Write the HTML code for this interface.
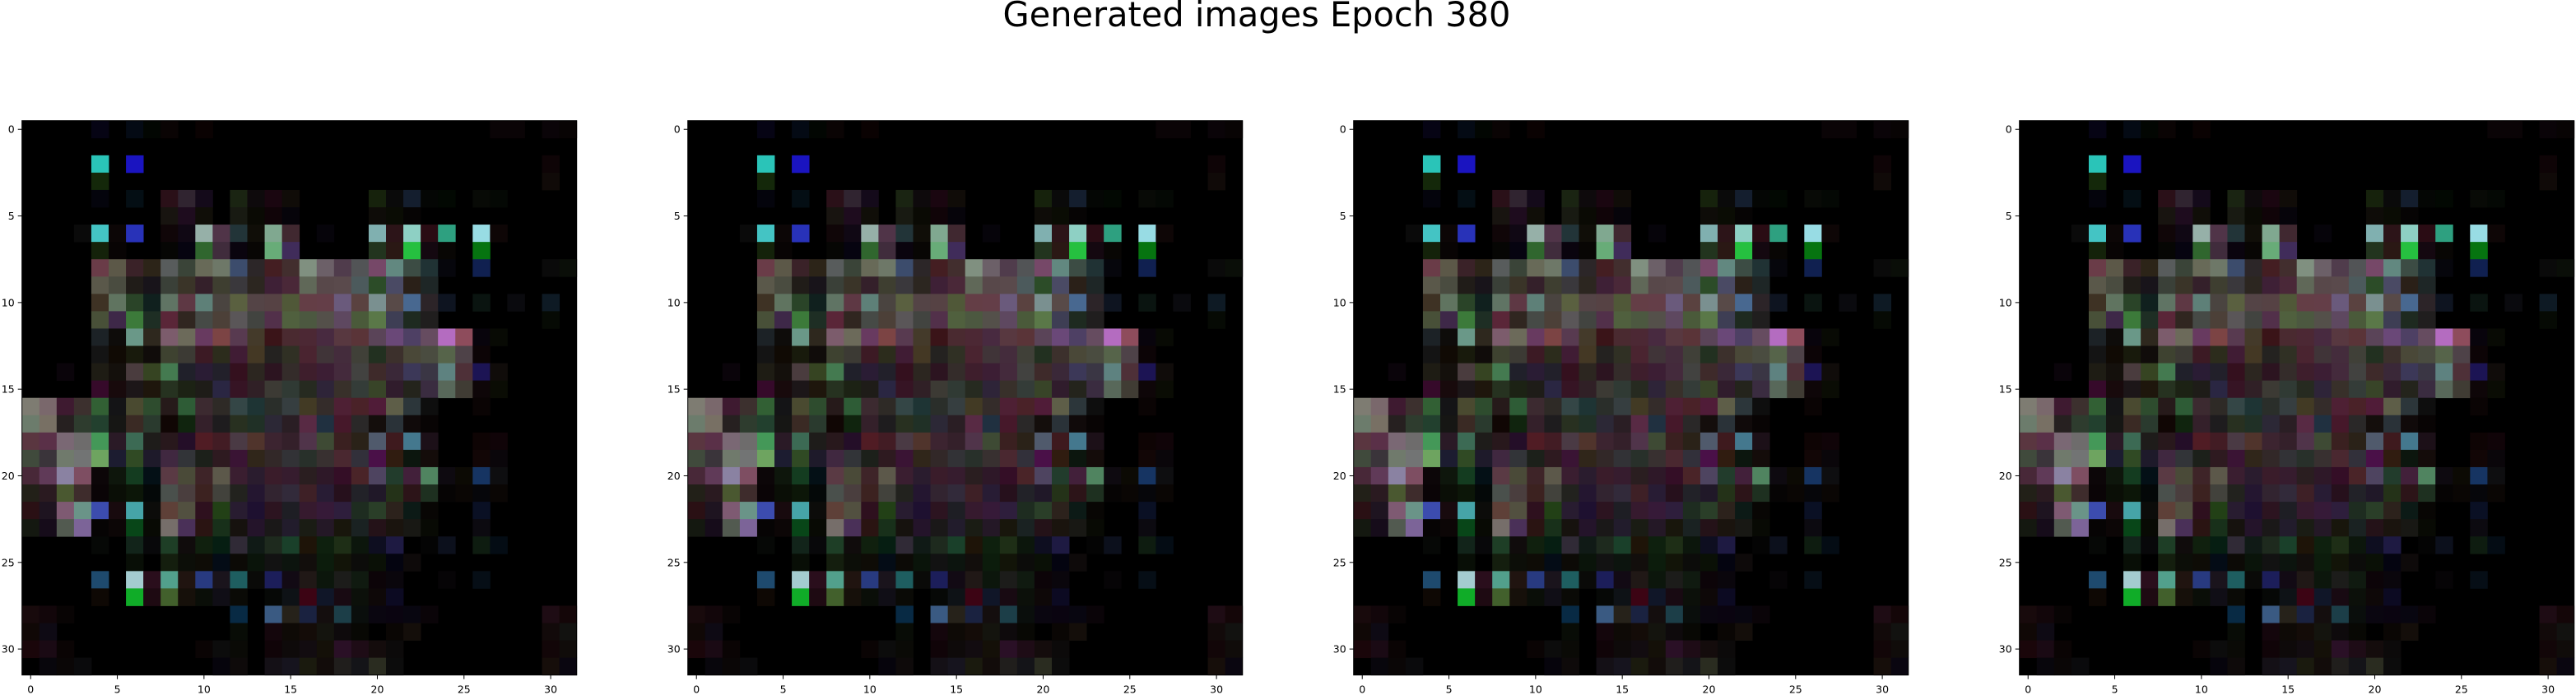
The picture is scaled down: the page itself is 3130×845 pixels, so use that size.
<!DOCTYPE html>
<html><head><meta charset="utf-8"><style>
html,body{margin:0;padding:0;background:#fff;}
body{width:3130px;height:845px;overflow:hidden;position:relative;font-family:"DejaVu Sans","Liberation Sans",sans-serif;}
#title{position:absolute;left:-76px;width:3206px;top:-7px;text-align:center;font-size:41.5px;color:#000;white-space:nowrap;}
svg{position:absolute;left:0;top:0;}
</style></head><body>
<div id="title">Generated images Epoch 380</div>
<svg id="fig" width="3130" height="845"></svg>
<script>
const panelCount = 4;
const gridSize = 32;
const tickValues = [0,5,10,15,20,25,30];
const tickLabels = ["0","5","10","15","20","25","30"];
const pixelRows = [
{4:'060414',6:'040a14',7:'020602',8:'0a0404',10:'0a0202',27:'0a0406',28:'0a0406',30:'0a0408',31:'080404'},
{},
{4:'2ac4b8',6:'1a14c0',30:'0e0406'},
{4:'14280a',30:'100a08'},
{4:'04040c',6:'040e14',8:'2a1018',9:'302430',10:'140a1a',12:'1a2412',13:'0e0a0c',14:'1a0610',15:'100c08',20:'16220c',21:'0a0a0a',22:'141e2e',23:'040604',24:'020802',26:'080a06',27:'040804'},
{8:'181410',9:'1e0c1e',10:'100e08',12:'181a12',13:'0a0a04',14:'100408',15:'06040a',20:'0e0c08',21:'0a0c04',22:'060404'},
{3:'0a0a0a',4:'44c4c4',5:'0c0606',6:'2832b8',8:'100608',9:'100814',10:'96b0a8',11:'503448',12:'223438',13:'100e08',14:'80a890',15:'402830',17:'06040a',20:'80b0b0',21:'2c1418',22:'8ed0c4',23:'2a0c14',24:'2ea080',26:'98dce4',27:'0e0606'},
{4:'14220a',5:'080404',8:'060604',9:'060410',10:'30662e',11:'402c3c',12:'0a040e',13:'080604',14:'68ac78',15:'402c5a',20:'22341e',21:'2a1814',22:'26c040',23:'140810',24:'080604',26:'067410'},
{4:'6a3c48',5:'5c5848',6:'3a2228',7:'2c2418',8:'585c5c',9:'3a4438',10:'686a58',11:'6e7868',12:'3c4c6c',13:'2c2628',14:'441e22',15:'422e2e',16:'809080',17:'6c6068',18:'503c4c',19:'525456',20:'764868',21:'628880',22:'3c4c44',23:'203234',24:'06060c',26:'102050',30:'0a0a0a',31:'0a0e08'},
{4:'5a584a',5:'4a4c40',6:'201c18',7:'18141a',8:'3a4038',9:'3a3428',10:'34202a',11:'3e3e30',12:'3a383c',13:'2c2620',14:'3e2036',15:'4a2838',16:'606858',17:'58484a',18:'5a4a4c',19:'4c5a5c',20:'2c4c28',21:'4a4a64',22:'2a2018',23:'1e2626'},
{4:'3e3224',5:'607460',6:'2a4428',7:'10201e',8:'607464',9:'5e3844',10:'5e8078',11:'4a4440',12:'5a6040',13:'544446',14:'564244',15:'505838',16:'643e46',17:'643e48',18:'6a5a7c',19:'5a4240',20:'7a9090',21:'584a48',22:'486890',23:'2c2428',24:'0e1420',26:'0a1410',28:'0a0a0e',30:'0e1a24'},
{4:'485038',5:'3e2848',6:'3c7a3a',7:'1e2e24',8:'5a2638',9:'302620',10:'464a46',11:'4c4038',12:'5a5658',13:'424440',14:'52304a',15:'50603e',16:'4c5840',17:'54504a',18:'5e4860',19:'4a5a3a',20:'5a7848',21:'3e3e54',22:'1e2a20',23:'201e1e',30:'060a04'},
{4:'1c2226',5:'0e0c0a',6:'6a9888',7:'2e281e',8:'7c5c6c',9:'6c6a5a',10:'683a60',11:'7c4444',12:'583a50',13:'443a2a',14:'3a1418',15:'4a2a30',16:'4c2834',17:'482a40',18:'583840',19:'5a3438',20:'5a4458',21:'6a4878',22:'4e4064',23:'664c60',24:'b46cc0',25:'8e4c5c',26:'08040c',27:'080a04'},
{4:'141414',5:'100a04',6:'181a0c',7:'100c0a',8:'3e4230',9:'3c3a34',10:'3c1a24',11:'2c2c1c',12:'401c34',13:'443824',14:'242220',15:'303024',16:'4a2430',17:'403438',18:'442c3c',19:'404038',20:'223020',21:'3c302c',22:'4a4838',23:'4a4c40',24:'56644a',25:'4e4248',26:'0c0406'},
{2:'0a040a',4:'1e1c14',5:'14100c',6:'4a3c3e',7:'364422',8:'447a50',9:'20202a',10:'2a1c34',11:'22202a',12:'34101e',13:'2c2620',14:'2c1420',15:'342c2a',16:'3e1e2c',17:'3c1e34',18:'442a3c',19:'424240',20:'3e2a2a',21:'3a2838',22:'3c3858',23:'3a3644',24:'5e8280',25:'4e3038',26:'1c1454',27:'100c0a'},
{4:'360a2a',5:'180a0c',6:'1c1618',7:'1e160c',8:'263220',9:'1c2214',10:'1e1c18',11:'2a2642',12:'361424',13:'302026',14:'3c3a34',15:'303a34',16:'262a20',17:'2e2438',18:'38302a',19:'343c38',20:'384428',21:'301c2c',22:'24241c',23:'3a2c40',24:'58685a',25:'403c34',26:'0e0608',27:'0a0c04'},
{0:'7e7c72',1:'7a686c',2:'3e1a30',3:'3c302e',4:'326034',5:'141416',6:'4a4a30',7:'2e4c2e',8:'261a1a',9:'2e5c36',10:'3c2a30',11:'2e2a26',12:'344646',13:'1e3434',14:'2a2e2a',15:'363e40',16:'423a24',17:'342c2a',18:'4e2034',19:'4a2228',20:'501c38',21:'5e5e48',22:'2c363a',23:'0e0e0e',26:'0a0404'},
{0:'6c7c6c',1:'787064',2:'262020',3:'2e3c2e',4:'22402e',5:'161614',6:'3a2a24',7:'2a3a2e',8:'100604',9:'10240e',10:'34202a',11:'1e1c1e',12:'283020',13:'203026',14:'2c2836',15:'2a1e24',16:'582a44',17:'203040',18:'46182a',19:'2a2828',20:'140e0c',21:'2a3238',22:'100a0a',23:'080404'},
{0:'5a3640',1:'5a3048',2:'7a6874',3:'6e6c6c',4:'449858',5:'2a1a26',6:'3c6a54',7:'1e1c1a',8:'28181c',9:'240e28',10:'501c24',11:'421c24',12:'4a3a44',13:'50342c',14:'3c2430',15:'34202a',16:'50344a',17:'3e4a34',18:'3a2020',19:'2a2218',20:'505a6c',21:'3e1a1e',22:'44788e',23:'1c1018',26:'0e0404',27:'100408'},
{0:'404a3c',1:'3a343a',2:'707a6c',3:'727474',4:'6ea460',5:'1c1c30',6:'304a24',7:'1e1a2a',8:'402840',9:'323438',10:'1c201a',11:'2e1a20',12:'3a1434',13:'30261a',14:'322828',15:'323236',16:'28302a',17:'383030',18:'4a2830',19:'32303a',20:'4a1048',21:'301c10',22:'0c160e',23:'140c0a',26:'120606',27:'0a060a'},
{0:'482838',1:'603a58',2:'8a82a2',3:'7e4e62',4:'0c0608',5:'0e160c',6:'143c20',7:'041016',8:'5a3a44',9:'4a4a38',10:'3e2428',11:'5c584a',12:'3a1e30',13:'2a1c2e',14:'3a1c2a',15:'361c2e',16:'2a1e20',17:'2e1828',18:'340e26',19:'4a2428',20:'4e4460',21:'223c2c',22:'42203a',23:'508460',24:'0e0a10',25:'0c0a04',26:'163462',27:'0e0e10'},
{0:'222018',1:'2a1a20',2:'4a5830',3:'3e2c2c',4:'0a0406',5:'0a0e06',6:'0c1608',7:'040808',8:'4a504c',9:'4a3e3e',10:'3c2220',11:'42423c',12:'22221e',13:'241630',14:'322430',15:'322a3a',16:'3e2026',17:'281c34',18:'26101c',19:'222228',20:'201828',21:'243218',22:'2c1418',23:'1e3020',24:'060404',25:'0a0604',26:'06060a',27:'0a0604'},
{0:'2a1014',1:'1e1420',2:'7e5a72',3:'6a9488',4:'3c4cae',5:'180a0e',6:'46a4a8',7:'0c0c0a',8:'5e4038',9:'525040',10:'2e101e',11:'224016',12:'281c30',13:'1e1030',14:'2c1420',15:'1e1e24',16:'361a2e',17:'361a38',18:'2e1e3c',19:'1e2c20',20:'2a3e28',21:'2c221c',22:'0c1a16',23:'080604',26:'0a1024'},
{0:'141810',1:'160c1a',2:'525a50',3:'7c6498',4:'060404',5:'0c0606',6:'084618',7:'080a04',8:'766e6a',9:'4a3058',10:'2a1412',11:'18301a',12:'16120e',13:'24142a',14:'1a1818',15:'221c2c',16:'1a1c14',17:'241826',18:'18160c',19:'1a2222',20:'241218',21:'1a140e',22:'181814',23:'080a04',26:'0c0a10'},
{4:'060806',6:'12241a',7:'08080a',8:'1e3e26',9:'100c0c',10:'10200e',11:'061e12',12:'302a36',13:'101a16',14:'1e2a1e',15:'1a402a',16:'1e1408',17:'0e200e',18:'1e2e16',19:'0c160c',20:'0e0e20',21:'1e1a42',23:'040404',24:'0c101c',26:'0e1c10',27:'040c14'},
{6:'080e06',8:'141e0e',9:'0c0e08',10:'0e0c06',11:'040c16',12:'0c0a06',13:'0a140a',14:'121212',15:'0c140e',16:'120e0c',17:'0c1c0c',18:'121408',19:'0c0c0a',20:'0a1006',21:'040410',22:'0e0a0a'},
{4:'1e4a6e',6:'a4ccd0',7:'2a0e1c',8:'52a08c',9:'201410',10:'283a80',11:'1a141c',12:'1e5e60',13:'0a0a08',14:'1c1e5a',15:'120a14',16:'201816',17:'0c160c',18:'1c1c1a',19:'101a10',20:'0c0408',21:'0a060c',24:'060406',26:'060e16'},
{4:'0e0804',6:'10ac28',7:'1e0a12',8:'42602c',9:'16100a',10:'0a0e08',11:'100e16',12:'0a0a06',14:'060806',15:'0e1216',16:'3c0414',17:'101628',18:'180a12',19:'0c100a',20:'0e0808',21:'0c0a22'},
{0:'180a0c',1:'12060a',2:'080404',12:'082a44',14:'3a5a82',15:'26221a',16:'1a2240',17:'140e0e',18:'1c3e48',19:'0a0e0c',20:'0a0610',21:'0a0410',22:'080610',23:'0a0408',30:'1e0c14',31:'140608'},
{0:'100806',1:'0e0a14',12:'080c06',14:'14060c',15:'0e0a06',16:'140c08',17:'14140e',18:'0e0a0c',19:'080804',21:'0a0604',22:'140e0a',30:'120a0a',31:'121210'},
{0:'1a060a',1:'1a0a14',2:'0a0404',10:'0a0404',11:'0c0c0c',12:'0a0a06',14:'100408',15:'0e0a0a',16:'120c10',17:'141008',18:'2a1026',19:'1e0c16',20:'140c0c',21:'0c0a0a',30:'120608',31:'100c0a'},
{1:'08060c',2:'0a0606',3:'0a0a0c',11:'06040c',12:'0e0a0a',14:'141016',15:'16141e',16:'1a1a0e',17:'120c0a',18:'201e1c',19:'141418',20:'2a2c20',21:'0c0c0c',30:'160e0a',31:'0a0610'}
];

const NS = 'http://www.w3.org/2000/svg';
const svg = document.getElementById('fig');
const PANEL_LEFT = 26.7, PANEL_STEP = 809, PANEL_TOP = 146.7, PANEL_SIZE = 674;
function mk(tag, attrs){ const e=document.createElementNS(NS,tag); for(const k in attrs) e.setAttribute(k,attrs[k]); return e; }

for (let p = 0; p < panelCount; p++) {
  const x0 = PANEL_LEFT + p*PANEL_STEP, y0 = PANEL_TOP;
  const cell = PANEL_SIZE / gridSize;
  const xScale = v => x0 + (v + 0.5) * cell;
  const yScale = v => y0 + (v + 0.5) * cell;
  const g = mk('g', {});
  
  
  svg.appendChild(g);
  const bg = mk('rect', {x:x0, y:y0, width:PANEL_SIZE, height:PANEL_SIZE, fill:'#000'});
  
  
  g.appendChild(bg);
  pixelRows.forEach((row, r) => {
    for (const c in row) {
      const ci = +c;
      const px = mk('rect', {x:(xScale(ci)-cell/2).toFixed(2), y:(yScale(r)-cell/2).toFixed(2), width:(cell+0.4).toFixed(2), height:(cell+0.4).toFixed(2), fill:'#'+row[c]});
      
      
      g.appendChild(px);
    }
  });
  const frame = mk('rect', {x:x0, y:y0, width:PANEL_SIZE, height:PANEL_SIZE, fill:'none', stroke:'#000', 'stroke-width':1});
  
  
  g.appendChild(frame);
  tickValues.forEach((v, i) => {
    const tx = xScale(v);
    const xt = mk('line', {x1:tx, x2:tx, y1:y0+PANEL_SIZE, y2:y0+PANEL_SIZE+5, stroke:'#000', 'stroke-width':1});
    
    
    g.appendChild(xt);
    const xl = mk('text', {x:tx, y:y0+PANEL_SIZE+22, 'text-anchor':'middle', 'font-size':12.5, 'font-family':'DejaVu Sans, Liberation Sans, sans-serif', fill:'#000'});
    xl.textContent = tickLabels[i];
    
    
    g.appendChild(xl);
    const ty = yScale(v);
    const yt = mk('line', {x1:x0-5, x2:x0, y1:ty, y2:ty, stroke:'#000', 'stroke-width':1});
    
    
    g.appendChild(yt);
    const yl = mk('text', {x:x0-9, y:ty+4.5, 'text-anchor':'end', 'font-size':12.5, 'font-family':'DejaVu Sans, Liberation Sans, sans-serif', fill:'#000'});
    yl.textContent = tickLabels[i];
    
    
    g.appendChild(yl);
  });
}
</script>
</body></html>
